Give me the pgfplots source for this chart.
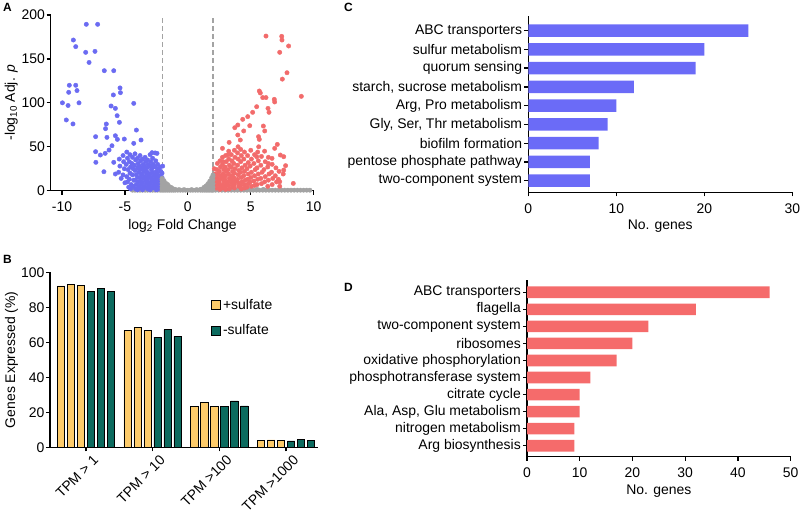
\documentclass[border=0pt]{standalone}
\usepackage{pgfplots}
\pgfplotsset{compat=1.18}
\usepackage{fontspec}
\setmainfont{Liberation Sans}
\definecolor{bluec}{HTML}{6B6BF2}
\definecolor{redc}{HTML}{F26B6B}
\definecolor{grayc}{HTML}{A3A3A3}
\definecolor{yellowc}{HTML}{FDCB6A}
\definecolor{tealc}{HTML}{0C6B5F}
\definecolor{cbar}{HTML}{6B6BF7}
\definecolor{dbar}{HTML}{F56B6B}
\pgfplotsset{
  common/.style={
    scale only axis,
    anchor=south west,
    axis lines*=left,
    axis line style={black, line width=1.3bp},
    tick style={black, line width=1.3bp},
    major tick length=4bp,
    tick align=outside,
    /pgf/number format/assume math mode=true,
    tick label style={font=\fontsize{14}{16}\selectfont},
    label style={font=\fontsize{14}{16}\selectfont},
  },
  dots/.style={only marks, mark=*, mark size=2.2bp, color=#1, mark options={solid, fill=#1, draw=#1}},
}
\begin{document}
\begin{tikzpicture}
\path[use as bounding box] (0bp,0bp) rectangle (800bp,518bp);
% ---------------- Panel A ----------------
\begin{axis}[common,
  at={(50.7bp,327.3bp)}, width=263.6bp, height=175.7bp,
  xmin=-10.9, xmax=10.05, ymin=0, ymax=200,
  xtick={-10,-5,0,5,10}, xticklabels={-10,-5,0,5,10},
  ytick={0,50,100,150,200},
  xticklabel style={yshift=-4bp},
  yticklabel style={inner sep=1.5bp},
  xlabel={log\textsubscript{2} Fold Change},
  ylabel={-log\textsubscript{10} Adj. \textit{p}},
  ylabel style={yshift=-1bp},
  clip=false,
]
\addplot[grayc, dash pattern=on 5bp off 3bp, line width=1.2bp, no marks] coordinates {(-2,0) (-2,200)};
\addplot[grayc, dash pattern=on 5bp off 3bp, line width=1.2bp, no marks] coordinates {(2,0) (2,200)};
% gray (not significant)
\addplot[dots=grayc] coordinates {
(-4.4,0.6) (-4.2,0.6) (-4.0,0.6) (-3.8,0.6) (-3.6,0.6) (-3.4,0.6) (-3.2,0.6) (-3.0,0.6) (-2.8,0.6) (-2.6,0.6) (-2.4,0.6) (-2.2,0.6)
(-0.8,0.6) (-0.6,0.6) (-0.4,0.6) (-0.2,0.6) (0,0.6) (0.2,0.6) (0.4,0.6) (0.6,0.6) (0.8,0.6)
(-0.7,1.2) (-0.3,1.2) (0.3,1.2) (0.7,1.2)
(2.2,0.6) (2.45,0.6) (2.7,0.6) (2.95,0.6) (3.2,0.6) (3.45,0.6) (3.7,0.6) (3.95,0.6) (4.2,0.6) (4.45,0.6)
(4.7,0.6) (4.95,0.6) (5.2,0.6) (5.45,0.6) (5.7,0.6) (5.95,0.6) (6.2,0.6) (6.45,0.6) (6.7,0.6) (6.95,0.6)
(7.2,0.6) (7.45,0.6) (7.7,0.6) (7.95,0.6) (8.2,0.6) (8.45,0.6) (8.7,0.6) (8.95,0.6) (9.2,0.6) (9.45,0.6) (9.7,0.6)
(2.5,1.5) (3.0,1.5) (3.5,1.5) (4.0,1.5) (4.5,1.5) (5.0,1.5) (5.5,1.5) (6.0,1.5)
};
% blue (down-regulated)
\addplot[dots=bluec] coordinates {
(-8.07,189.4) (-7.17,189.4) (-9.10,171.5) (-8.91,164) (-8.12,157.5) (-7.38,158.6) (-7.85,146)
(-6.64,136.6) (-5.89,136.6) (-9.42,120) (-8.91,120) (-9.47,112) (-8.81,114) (-9.97,100) (-8.65,100)
(-9.52,97) (-9.66,80.5) (-9.13,76) (-5.39,117) (-5.36,111.6) (-5.92,109) (-4.30,99.4) (-6.1,96.4)
(-5.76,93.7) (-5.62,85.4) (-6.48,75.9) (-6.54,70.6) (-5.44,77.8) (-4.09,69) (-7.33,61.5) (-6.43,60.7)
(-5.76,62.6) (-5.6,58.4) (-5.05,58.8) (-6.03,51.2) (-6.26,46.3) (-6.57,42.5) (-7.33,44.4) (-6.95,40.6)
(-7.31,32.3) (-6.67,21.6) (-5.89,32.3) (-5.76,19) (-3.72,57.7) (-4.30,53.9) (-2.85,43.3) (-2.45,42.5) (-2.0,28)
(-5.45,36) (-5.4,28) (-5.5,21) (-5.3,14)
(-5.15,40) (-5.1,33) (-5.05,25) (-5.15,18) (-5.0,9)
(-4.85,44) (-4.8,37) (-4.9,30) (-4.75,24) (-4.85,16) (-4.8,10) (-4.7,4)
(-4.6,41) (-4.65,33) (-4.55,27) (-4.6,20) (-4.65,13) (-4.5,7) (-4.55,2)
(-4.4,38) (-4.45,31) (-4.35,25) (-4.4,18) (-4.3,12) (-4.35,5)
(-4.2,42) (-4.15,35) (-4.25,29) (-4.2,23) (-4.1,18) (-4.2,12) (-4.1,7) (-4.15,2)
(-4.0,37) (-3.95,31) (-4.0,26) (-3.9,21) (-4.0,15) (-3.95,10) (-3.9,5) (-4.0,1)
(-3.8,40) (-3.75,34) (-3.85,28) (-3.8,24) (-3.7,19) (-3.8,15) (-3.75,11) (-3.7,7) (-3.8,3)
(-3.6,36) (-3.55,30) (-3.6,26) (-3.5,22) (-3.65,18) (-3.55,14) (-3.6,9) (-3.5,5) (-3.6,1)
(-3.4,38) (-3.35,33) (-3.45,28) (-3.4,24) (-3.3,20) (-3.4,16) (-3.35,12) (-3.3,8) (-3.4,4)
(-3.2,35) (-3.15,30) (-3.25,26) (-3.2,21) (-3.1,17) (-3.2,13) (-3.15,9) (-3.1,6) (-3.2,2)
(-3.0,41) (-2.95,33) (-3.0,28) (-2.9,24) (-3.0,19) (-2.95,15) (-2.9,11) (-3.0,8) (-2.95,4) (-3.0,1)
(-2.8,37) (-2.75,30) (-2.85,26) (-2.8,21) (-2.7,17) (-2.8,13) (-2.75,10) (-2.7,6) (-2.8,3)
(-2.6,43) (-2.55,34) (-2.6,27) (-2.5,22) (-2.6,18) (-2.55,14) (-2.5,11) (-2.6,7) (-2.55,4) (-2.5,1)
(-2.4,30) (-2.35,25) (-2.45,20) (-2.4,16) (-2.3,12) (-2.4,8) (-2.35,5) (-2.3,2)
(-2.2,27) (-2.15,22) (-2.25,17) (-2.2,13) (-2.1,10) (-2.2,6) (-2.15,3)
(-2.05,20) (-2.05,15) (-2.02,8)
};
% red (up-regulated)
\addplot[dots=redc] coordinates {
(6.21,176) (7.46,175.7) (7.48,171.5) (8.01,164.7) (7.30,157.5) (7.88,134.3) (7.51,127) (9.02,107.4)
(5.68,113.5) (5.76,111.2) (5.95,106) (6.21,106) (6.87,104) (6.9,101) (5.47,95.6) (6.37,93.7)
(6.45,89.2) (5.15,89.2) (4.76,84.3) (4.36,81.2) (3.97,74.8) (3.73,71.7) (4.92,74) (4.44,68)
(6.0,73.6) (6.11,68) (3.97,63.4) (5.62,61.5) (5.68,58.4) (4.17,57.7) (3.28,55) (3.99,50) (2.75,48.2)
(7.11,52.7) (7.35,40.6) (7.62,38.7) (5.63,50) (6.9,48.2) (7.77,28.5) (7.62,23.5) (7.58,19) (7.30,10.2)
(8.38,8.3) (6.69,36.8) (6.4,31) (5.47,38.7)
(2.1,25) (2.15,19) (2.1,14) (2.2,10) (2.1,6) (2.2,3)
(2.35,31) (2.3,24) (2.4,19) (2.3,15) (2.35,11) (2.4,7) (2.3,3)
(2.55,34) (2.6,27) (2.5,22) (2.6,17) (2.55,13) (2.5,9) (2.6,5) (2.55,1.5)
(2.75,38) (2.8,33) (2.75,30) (2.85,24) (2.8,19) (2.75,15) (2.85,11) (2.8,7) (2.75,3)
(3.0,40) (3.05,33) (2.95,27) (3.05,22) (3.0,17) (2.95,13) (3.05,9) (3.0,5) (3.0,1.5)
(3.25,45) (3.2,41) (3.25,36) (3.3,29) (3.2,24) (3.25,19) (3.3,14) (3.2,10) (3.25,6) (3.3,2)
(3.45,41) (3.5,34) (3.45,27) (3.55,22) (3.5,17) (3.45,13) (3.5,9) (3.55,5)
(3.7,46) (3.75,38) (3.65,31) (3.75,25) (3.7,20) (3.65,15) (3.75,11) (3.7,7) (3.7,3)
(3.95,43) (4.0,36) (3.95,29) (4.05,23) (4.0,18) (3.95,13) (4.0,9) (4.05,5)
(4.2,47) (4.25,40) (4.2,33) (4.3,26) (4.2,21) (4.25,15) (4.3,10) (4.2,6) (4.25,2)
(4.5,44) (4.45,36) (4.55,29) (4.5,22) (4.45,17) (4.55,12) (4.5,7) (4.5,3)
(4.75,40) (4.8,32) (4.7,25) (4.8,19) (4.75,13) (4.8,8) (4.7,4)
(5.0,46) (5.05,36) (4.95,28) (5.05,21) (5.0,15) (4.95,10) (5.05,5)
(5.3,41) (5.25,31) (5.35,24) (5.3,17) (5.25,11) (5.3,6)
(5.55,44) (5.6,34) (5.5,26) (5.6,19) (5.55,13) (5.5,7)
(5.85,39) (5.8,29) (5.9,21) (5.8,14) (5.85,8)
(6.1,45) (6.15,33) (6.05,24) (6.15,16) (6.1,10)
(6.4,38) (6.35,27) (6.45,19) (6.4,12) (6.35,5)
(6.7,30) (6.65,21) (6.75,14) (6.7,7)
(7.0,26) (6.95,17) (7.05,10)
(7.25,22) (7.2,13) (7.3,5)
};
% gray bumps next to the thresholds
\addplot[dots=grayc] coordinates {
(-2.05,0.6) (-2.05,3) (-2.05,6) (-2.05,9) (-2.05,12) (-2.05,14)
(-1.9,0.6) (-1.9,3) (-1.9,6) (-1.9,9) (-1.9,11.5)
(-1.75,0.6) (-1.75,3) (-1.75,5.5) (-1.75,8.5)
(-1.6,0.6) (-1.6,2.5) (-1.6,5) (-1.6,7)
(-1.45,0.6) (-1.45,2.5) (-1.45,4.5)
(-1.3,0.6) (-1.3,2) (-1.3,3.5)
(-1.15,0.6) (-1.15,2) (-1.0,0.6) (-1.0,1.5)
(1.0,0.6) (1.0,1.5) (1.15,0.6) (1.15,2)
(1.3,0.6) (1.3,2.5) (1.3,4)
(1.45,0.6) (1.45,3) (1.45,5.5)
(1.6,0.6) (1.6,3) (1.6,6) (1.6,8)
(1.75,0.6) (1.75,3) (1.75,6) (1.75,9) (1.75,11)
(1.9,0.6) (1.9,3.5) (1.9,7) (1.9,10) (1.9,13) (1.9,15)
(2.0,0.6) (2.0,4) (2.0,8) (2.0,12) (2.0,16) (2.0,18)
};
\end{axis}
% ---------------- Panel B ----------------
\begin{axis}[common,
  at={(50bp,70.7bp)}, width=268bp, height=175bp,
  xmin=-0.54, xmax=3.48, ymin=0, ymax=100,
  xtick={0,1,2,3},
  xticklabels={TPM > 1, TPM > 10, TPM >100, TPM >1000},
  xticklabel style={rotate=45, anchor=north east, inner sep=1.5bp, xshift=4bp, yshift=-5bp},
  ytick={0,20,40,60,80,100},
  yticklabel style={inner sep=1.5bp},
  ylabel={Genes Expressed (\%)},
  ylabel style={yshift=-2bp},
  legend style={at={(rel axis cs:0.59,0.87)}, anchor=north west, draw=none, fill=none,
    font=\fontsize{14}{16}\selectfont, row sep=10bp},
  legend cell align=left,
]
\addplot[ybar, bar width=0.1125, bar shift=-0.375, fill=yellowc, draw=black, line width=0.8bp, forget plot] coordinates {(0,92.2) (1,66.7) (2,23.4) (3,4.0)};
\addplot[ybar, bar width=0.1125, bar shift=-0.225, fill=yellowc, draw=black, line width=0.8bp, forget plot] coordinates {(0,93.1) (1,68.4) (2,25.7) (3,4.2)};
\addplot[ybar, bar width=0.1125, bar shift=-0.075, fill=yellowc, draw=black, line width=0.8bp, forget plot] coordinates {(0,92.4) (1,66.9) (2,23.4) (3,3.8)};
\addplot[ybar, bar width=0.1125, bar shift=0.075, fill=tealc, draw=black, line width=0.8bp, forget plot] coordinates {(0,88.8) (1,63.0) (2,23.4) (3,3.6)};
\addplot[ybar, bar width=0.1125, bar shift=0.225, fill=tealc, draw=black, line width=0.8bp, forget plot] coordinates {(0,91.0) (1,67.2) (2,26.5) (3,4.4)};
\addplot[ybar, bar width=0.1125, bar shift=0.375, fill=tealc, draw=black, line width=0.8bp, forget plot] coordinates {(0,89.0) (1,63.4) (2,23.6) (3,4.0)};
\addlegendimage{legend image code/.code={\draw[fill=yellowc, draw=black, line width=0.8bp] (0bp,-4.5bp) rectangle (9bp,4.5bp);}}
\addlegendentry{+sulfate}
\addlegendimage{legend image code/.code={\draw[fill=tealc, draw=black, line width=0.8bp] (0bp,-4.5bp) rectangle (9bp,4.5bp);}}
\addlegendentry{-sulfate}
\end{axis}
% ---------------- Panel C ----------------
\begin{axis}[common,
  at={(528.3bp,325.7bp)}, width=264bp, height=176.3bp,
  xmin=0, xmax=30, ymin=0.38, ymax=9.78,
  xtick={0,10,20,30},
  ytick={1,...,9},
  yticklabels={{two-component system}, {pentose phosphate pathway}, {biofilm formation}, {Gly, Ser, Thr metabolism}, {Arg, Pro metabolism}, {starch, sucrose metabolism}, {quorum sensing}, {sulfur metabolism}, {ABC transporters}},
  yticklabel style={inner sep=2bp},
  xticklabel style={yshift=-3.5bp},
  xlabel={No. genes},
]
\addplot[xbar, bar width=0.66, bar shift=0, fill=cbar, draw=none] coordinates {
(7,1) (7,2) (8,3) (9,4) (10,5) (12,6) (19,7) (20,8) (25,9)};
\end{axis}
% ---------------- Panel D ----------------
\begin{axis}[common,
  at={(527bp,61.3bp)}, width=263.7bp, height=176.7bp,
  xmin=0, xmax=50, ymin=0.355, ymax=10.72,
  xtick={0,10,20,30,40,50},
  ytick={1,...,10},
  yticklabels={{Arg biosynthesis}, {nitrogen metabolism}, {Ala, Asp, Glu metabolism}, {citrate cycle}, {phosphotransferase system}, {oxidative phosphorylation}, {ribosomes}, {two-component system}, {flagella}, {ABC transporters}},
  yticklabel style={inner sep=2bp},
  xticklabel style={yshift=-3.5bp},
  xlabel={No. genes},
]
\addplot[xbar, bar width=0.68, bar shift=0, fill=dbar, draw=none] coordinates {
(9,1) (9,2) (10,3) (10,4) (12,5) (17,6) (20,7) (23,8) (32,9) (46,10)};
\end{axis}
% panel letters
\node[anchor=north west, inner sep=0pt, font=\bfseries\fontsize{12}{12}\selectfont] at (3bp,515bp) {A};
\node[anchor=north west, inner sep=0pt, font=\bfseries\fontsize{12}{12}\selectfont] at (3bp,263bp) {B};
\node[anchor=north west, inner sep=0pt, font=\bfseries\fontsize{12}{12}\selectfont] at (344bp,515bp) {C};
\node[anchor=north west, inner sep=0pt, font=\bfseries\fontsize{12}{12}\selectfont] at (344bp,235bp) {D};
\end{tikzpicture}
\end{document}
